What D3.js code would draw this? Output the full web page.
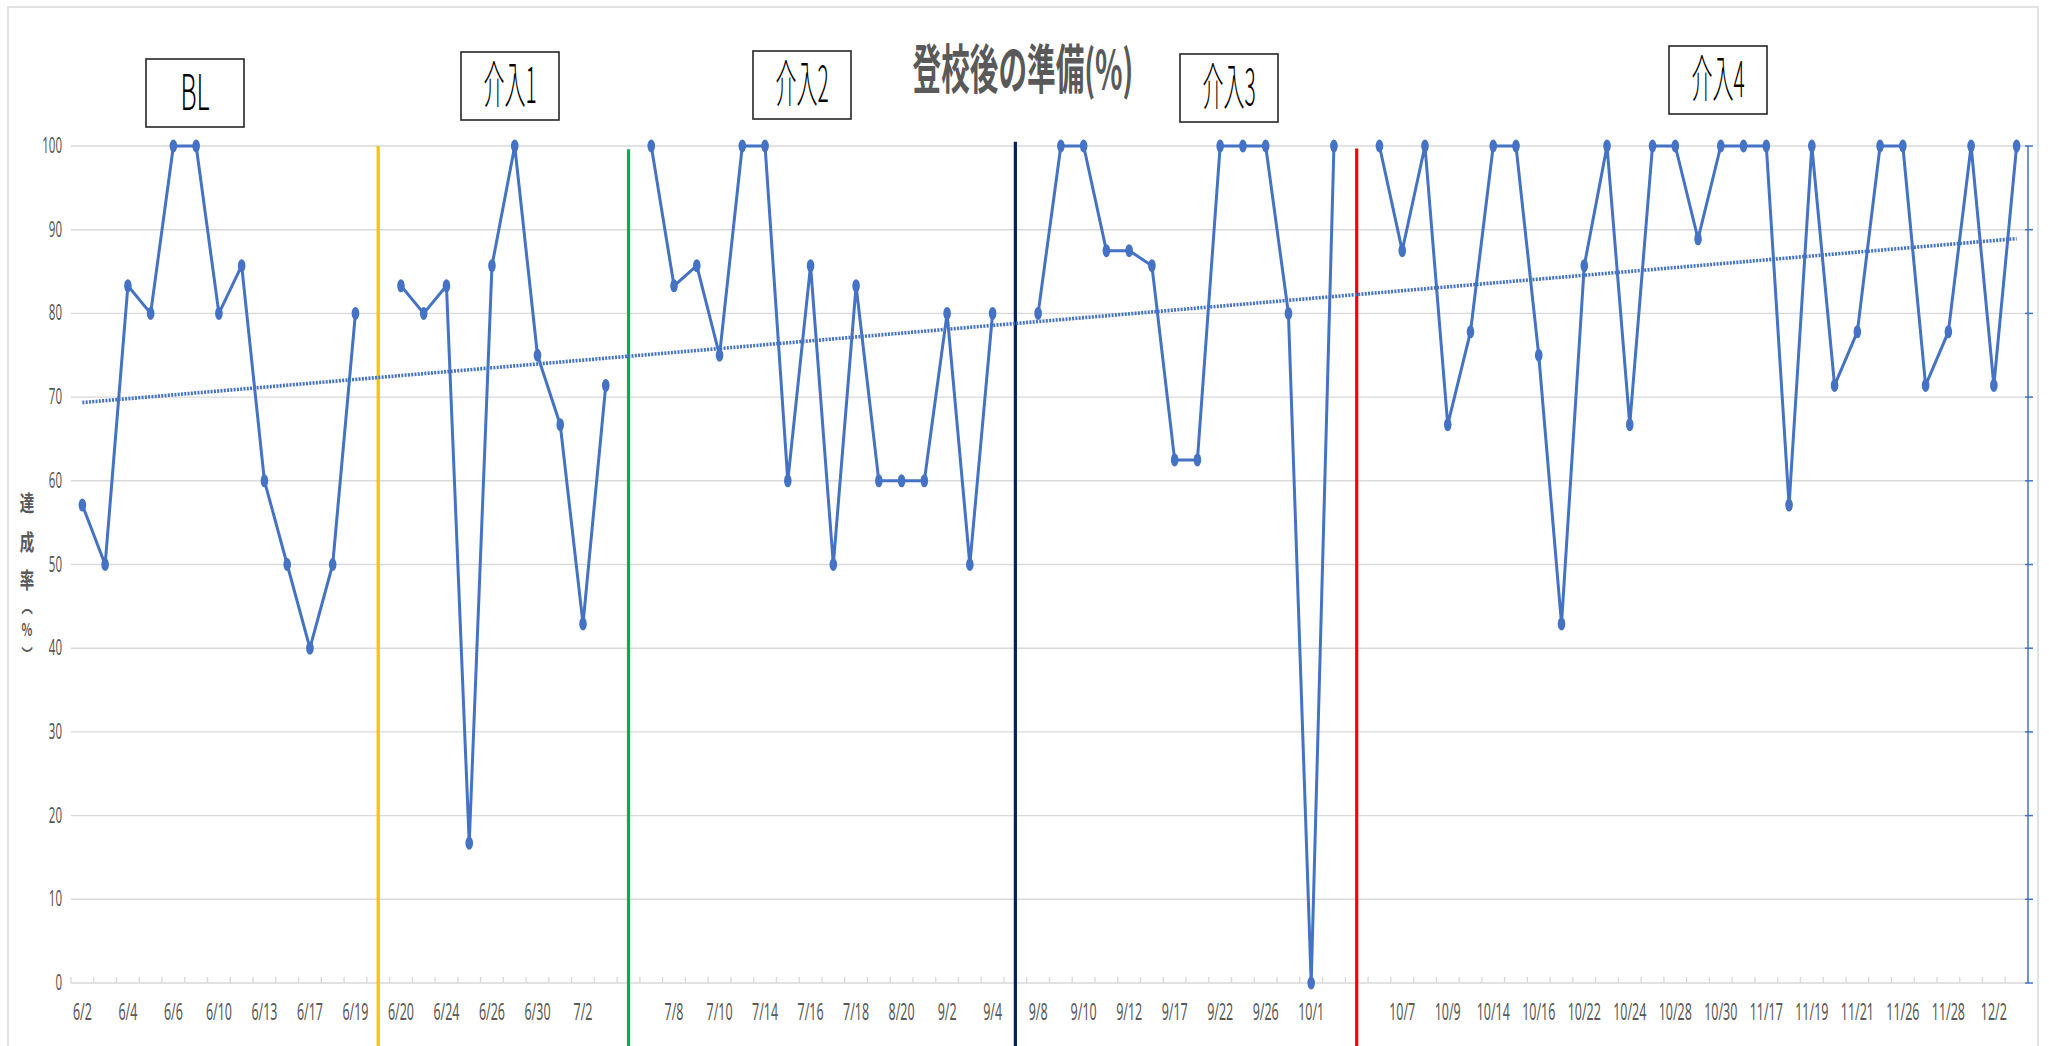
<!DOCTYPE html>
<html>
<head>
<meta charset="utf-8">
<script src="https://cdn.jsdelivr.net/npm/d3@7"></script>
<style>
  html, body { margin: 0; padding: 0; background: #fff; }
  svg { display: block; }
</style>
</head>
<body>
<svg id="chart" width="2049" height="1046"></svg>
<script>
// ---------- DATA ----------
const dates = [
  "6/2","6/3","6/4","6/5","6/6","6/9","6/10","6/11","6/13","6/16","6/17","6/18","6/19","",
  "6/20","6/23","6/24","6/25","6/26","6/27","6/30","7/1","7/2","7/3","",
  "7/7","7/8","7/9","7/10","7/11","7/14","7/15","7/16","7/17","7/18","8/19","8/20","9/1","9/2","9/3","9/4","",
  "9/8","9/9","9/10","9/11","9/12","9/16","9/17","9/18","9/22","9/25","9/26","9/29","10/1","10/2","",
  "10/6","10/7","10/8","10/9","10/10","10/14","10/15","10/16","10/20","10/22","10/23","10/24","10/27","10/28",
  "10/29","10/30","11/4","11/17","11/18","11/19","11/20","11/21","11/25","11/26","11/27","11/28","12/1","12/2","12/3"
];
const values = [
  57.1,50,83.3,80,100,100,80,85.7,60,50,40,50,80,null,
  83.3,80,83.3,16.7,85.7,100,75,66.7,42.9,71.4,null,
  100,83.3,85.7,75,100,100,60,85.7,50,83.3,60,60,60,80,50,80,null,
  80,100,100,87.5,87.5,85.7,62.5,62.5,100,100,100,80,0,100,null,
  100,87.5,100,66.7,77.8,100,100,75,42.9,85.7,100,66.7,100,100,
  88.9,100,100,100,57.1,100,71.4,77.8,100,100,71.4,77.8,100,71.4,100
];
const yTicks = [0,10,20,30,40,50,60,70,80,90,100];
const title = "登校後の準備(%)";
const yTitleChars = ["達","成","率","︵","%","︶"];
const phaseLabels = ["BL","介入1","介入2","介入3","介入4"];
const phaseBreaks = [13,24,41,56];            // empty categories where phase lines sit
const phaseColors = ["#FFC000","#00B050","#002060","#FF0000"];
const phaseTops = [100,99.6,100.5,99.7];

// ---------- LAYOUT ----------
const svg = d3.select("#chart");
const plotL = 71, plotR = 2028, plotT = 146, plotB = 983;
const x = d3.scaleBand().domain(d3.range(dates.length)).range([plotL, plotR]);
const cx = i => x(i) + x.bandwidth() / 2;
const y = d3.scaleLinear().domain([0,100]).range([plotB, plotT]);
const blue = "#4472C4", gray = "#595959", grid = "#d9d9d9";

const boxLayout = [
  {x:146, y:59, w:98, h:68},
  {x:461, y:52, w:98, h:68},
  {x:753, y:51, w:98, h:68},
  {x:1180, y:54, w:98, h:68},
  {x:1669, y:46, w:98, h:68}
];
const yTitlePos = [501,540,578,605,628,653];
const yTitleSizes = [22,22,22,17,17,17];

function condensedText(g, tx, ty, str, opts) {
  const gg = g.append("g").attr("transform", `translate(${tx},${ty})`);
  return gg.append("text")
    .attr("transform", `scale(${opts.sx},1)`)
    .attr("text-anchor", opts.anchor || "middle")
    .attr("font-family", opts.family || "'Noto Sans', 'Noto Sans CJK JP', sans-serif")
    .attr("font-size", opts.size)
    .attr("font-weight", opts.weight || "normal")
    .attr("fill", opts.fill || gray)
    .text(str);
}

// chart area border
svg.append("rect").attr("x", 8).attr("y", 7).attr("width", 2030).attr("height", 1060)
  .attr("fill", "none").attr("stroke", grid).attr("stroke-width", 1.5);

// gridlines
svg.append("g").selectAll("line").data(yTicks.filter(v => v > 0)).join("line")
  .attr("x1", plotL).attr("x2", plotR)
  .attr("y1", d => y(d)).attr("y2", d => y(d))
  .attr("stroke", grid).attr("stroke-width", 1.4);

// x axis line and ticks between categories
svg.append("line").attr("x1", plotL).attr("x2", plotR).attr("y1", plotB).attr("y2", plotB)
  .attr("stroke", grid).attr("stroke-width", 1.6);
svg.append("g").selectAll("line").data(d3.range(dates.length + 1)).join("line")
  .attr("x1", i => plotL + i * x.bandwidth()).attr("x2", i => plotL + i * x.bandwidth())
  .attr("y1", plotB - 6).attr("y2", plotB)
  .attr("stroke", grid).attr("stroke-width", 1.4);

// x tick labels (every other category)
const xl = svg.append("g");
d3.range(0, dates.length, 2).forEach(i => {
  if (dates[i]) condensedText(xl, cx(i), 1020, dates[i], {sx:0.52, size:24});
});

// y tick labels
const yl = svg.append("g");
yTicks.forEach(v => condensedText(yl, 62, y(v) + 7, String(v), {sx:0.55, size:21, anchor:"end"}));

// right (secondary) axis in blue
svg.append("line").attr("x1", plotR).attr("x2", plotR).attr("y1", plotT).attr("y2", plotB)
  .attr("stroke", blue).attr("stroke-width", 1.5);
svg.append("g").selectAll("line").data(yTicks).join("line")
  .attr("x1", plotR - 3).attr("x2", plotR + 5)
  .attr("y1", d => y(d)).attr("y2", d => y(d))
  .attr("stroke", blue).attr("stroke-width", 1.5);

// phase change lines
svg.append("g").selectAll("line").data(phaseBreaks).join("line")
  .attr("x1", d => cx(d)).attr("x2", d => cx(d))
  .attr("y1", (d, i) => y(phaseTops[i])).attr("y2", 1046)
  .attr("stroke", (d, i) => phaseColors[i]).attr("stroke-width", 3.2);

// linear trendline (least squares over plotted points)
const pts = values.map((v, i) => ({i, v})).filter(d => d.v != null);
const mx = d3.mean(pts, d => d.i), my = d3.mean(pts, d => d.v);
const slope = d3.sum(pts, d => (d.i - mx) * (d.v - my)) / d3.sum(pts, d => (d.i - mx) ** 2);
const icpt = my - slope * mx;
const trendEnds = [0, dates.length - 1];
svg.append("path")
  .attr("d", d3.line().x(i => cx(i)).y(i => y(icpt + slope * i))(trendEnds))
  .attr("fill", "none").attr("stroke", blue).attr("stroke-width", 3.6)
  .attr("stroke-dasharray", "2,1.3");

// data line
const data = values.map((v, i) => ({i, v}));
svg.append("path")
  .attr("d", d3.line().defined(d => d.v != null).x(d => cx(d.i)).y(d => y(d.v))(data))
  .attr("fill", "none").attr("stroke", blue).attr("stroke-width", 3)
  .attr("stroke-linejoin", "round");
svg.append("g").selectAll("ellipse").data(pts).join("ellipse")
  .attr("cx", d => cx(d.i)).attr("cy", d => y(d.v))
  .attr("rx", 3.8).attr("ry", 6.5).attr("fill", blue);

// title
condensedText(svg, 1023, 89, title,
  {sx:0.54, size:53, weight:"bold", family:"'Noto Sans CJK JP', sans-serif"});

// y axis title (vertical, stacked)
const yt = svg.append("g");
yTitleChars.forEach((c, k) => {
  yt.append("g").attr("transform", `translate(27,${yTitlePos[k]})`)
    .append("text").attr("transform", "scale(0.66,1)")
    .attr("text-anchor", "middle").attr("dominant-baseline", "central")
    .attr("font-family", "'Noto Sans CJK JP', sans-serif").attr("font-weight", "bold")
    .attr("font-size", yTitleSizes[k]).attr("fill", gray).text(c);
});

// phase label boxes
const bx = svg.append("g");
phaseLabels.forEach((lab, k) => {
  const b = boxLayout[k];
  bx.append("rect").attr("x", b.x).attr("y", b.y).attr("width", b.w).attr("height", b.h)
    .attr("fill", "#fff").attr("stroke", "#262626").attr("stroke-width", 1.6);
  condensedText(bx, b.x + b.w / 2, b.y + 51, lab,
    {sx: lab === "BL" ? 0.5 : 0.42, size:50, weight:"300", fill:"#000", family:"'Noto Sans CJK JP', sans-serif"});
});
</script>
</body>
</html>
